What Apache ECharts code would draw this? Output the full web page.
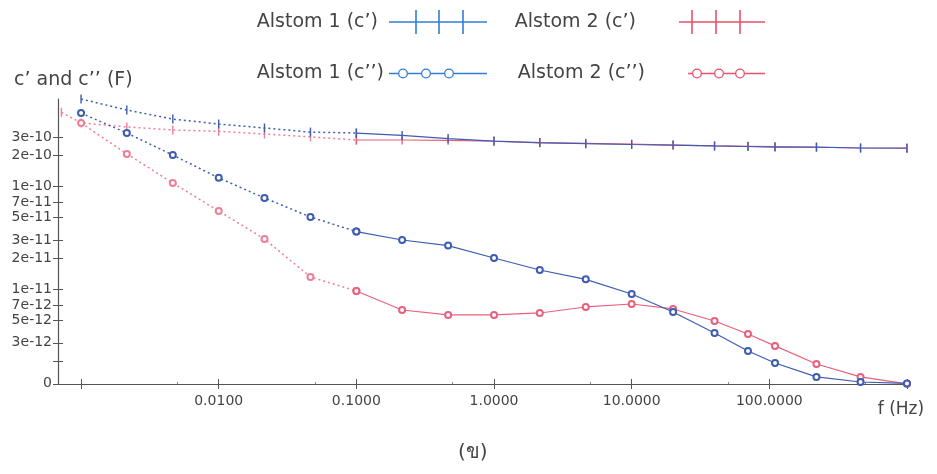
<!DOCTYPE html>
<html><head><meta charset="utf-8">
<script src="https://cdn.jsdelivr.net/npm/echarts@6/dist/echarts.min.js"></script>
<style>html,body{margin:0;padding:0;background:#fff}#c{width:937px;height:474px}</style>
</head><body><div id="c"></div>
<script>
// ---- data ----
const freqHz = [0.001, 0.00215, 0.00464, 0.01, 0.0215, 0.0464, 0.1, 0.215, 0.464, 1, 2.15, 4.64, 10, 20, 40, 70, 110, 220, 460, 1000];
const alstom1CPrime = [7.0e-10, 5.47e-10, 4.47e-10, 4.0e-10, 3.66e-10, 3.34e-10, 3.27e-10, 3.1e-10, 2.89e-10, 2.73e-10, 2.64e-10, 2.58e-10, 2.53e-10, 2.5e-10, 2.45e-10, 2.42e-10, 2.39e-10, 2.39e-10, 2.34e-10, 2.34e-10];
const alstom2CPrimeExtraFreq = [0.00072];
const alstom2CPrimeExtra = [5.2e-10];
const alstom2CPrime = [4.1e-10, 3.75e-10, 3.5e-10, 3.4e-10, 3.2e-10, 3.0e-10, 2.8e-10, 2.8e-10, 2.78e-10, 2.72e-10, 2.63e-10, 2.6e-10, 2.55e-10, 2.5e-10, 2.45e-10, 2.43e-10, 2.41e-10, 2.38e-10, 2.34e-10, 2.32e-10];
const alstom1CDouble = [5.11e-10, 3.27e-10, 2.0e-10, 1.2e-10, 7.65e-11, 5.0e-11, 3.61e-11, 2.99e-11, 2.64e-11, 2.0e-11, 1.53e-11, 1.24e-11, 8.94e-12, 5.98e-12, 3.74e-12, 2.5e-12, 1.91e-12, 1.4e-12, 1.25e-12, 1.21e-12];
const alstom2CDouble = [4.09e-10, 2.05e-10, 1.07e-10, 5.72e-11, 3.06e-11, 1.31e-11, 9.57e-12, 6.25e-12, 5.6e-12, 5.6e-12, 5.85e-12, 6.69e-12, 7.15e-12, 6.4e-12, 4.89e-12, 3.66e-12, 2.8e-12, 1.87e-12, 1.4e-12, 1.2e-12];

const seriesNames = ["Alstom 1 (c’)", "Alstom 2 (c’)", "Alstom 1 (c’’)", "Alstom 2 (c’’)"];
const yTickValues = [1.2e-12, 2e-12, 3e-12, 5e-12, 7e-12, 1e-11, 2e-11, 3e-11, 5e-11, 7e-11, 1e-10, 2e-10, 3e-10];
const yTickLabels = ['0', '', '3e-12', '5e-12', '7e-12', '1e-11', '2e-11', '3e-11', '5e-11', '7e-11', '1e-10', '2e-10', '3e-10'];
const xMajorTicks = [0.001, 0.01, 0.1, 1, 10, 100, 1000];
const xTickLabels = ['', '0.0100', '0.1000', '1.0000', '10.0000', '100.0000', ''];
const xMinorTicks = [0.005, 0.05, 0.5, 5, 50, 500];
const yTitle = "c’ and c’’ (F)";
const xTitle = "f (Hz)";
const caption = "(ข)";

// ---- helpers ----
function pairs(f, v) { return f.map((x, i) => [x, v[i]]); }
function low(p) { return p.filter(d => d[0] <= 0.1 + 1e-9); }
function high(p) { return p.filter(d => d[0] >= 0.1 - 1e-9); }
function findLabel(vals, labels, v) {
  for (let i = 0; i < vals.length; i++) {
    if (Math.abs(Math.log10(v) - Math.log10(vals[i])) < 1e-4) return labels[i];
  }
  return '';
}
function ring(cx, cy, ro, ri) {
  return `M${cx-ro},${cy}A${ro},${ro} 0 1,1 ${cx+ro},${cy}A${ro},${ro} 0 1,1 ${cx-ro},${cy}Z` +
         `M${cx-ri},${cy}A${ri},${ri} 0 1,0 ${cx+ri},${cy}A${ri},${ri} 0 1,0 ${cx-ri},${cy}Z`;
}
function circleIcon(W, H, centers, ro, ri) {
  const cy = H / 2, t = 0.75;
  let p = '';
  let x0 = 0;
  centers.forEach(c => {
    p += `M${x0},${cy-t}H${c-ro}V${cy+t}H${x0}Z`;
    p += ring(c, cy, ro, ri);
    x0 = c + ro;
  });
  p += `M${x0},${cy-t}H${W}V${cy+t}H${x0}Z`;
  return 'path://' + p;
}
function barIcon(W, H, bars) {
  const cy = H / 2, t = 0.8;
  let p = `M0,${cy-t}H${W}V${cy+t}H0Z`;
  bars.forEach(b => { p += `M${b-0.8},0H${b+0.8}V${H}H${b-0.8}Z`; });
  return 'path://' + p;
}

const BLUE = '#3d5cb2', RED = '#e8607c', RED_DOT = '#ef7f96';
const LBLUE = '#2f7fd6', LRED = '#e8506e';
const TXT = '#444', AX = '#555';
const FONT = 'DejaVu Sans';

const yMin = 1.195e-12, yMax = 7e-10, xMin = 0.00068, xMax = 1000.5;

const p1c = pairs(freqHz, alstom1CPrime);
const p2c = pairs(alstom2CPrimeExtraFreq.concat(freqHz), alstom2CPrimeExtra.concat(alstom2CPrime));
const p1d = pairs(freqHz, alstom1CDouble);
const p2d = pairs(freqHz, alstom2CDouble);

function mk(name, color, data, dotted, kind) {
  const s = {
    name, type: 'line', data, xAxisIndex: 0, yAxisIndex: 0, clip: false,
    lineStyle: { color, width: dotted ? 1.5 : 1.2, type: dotted ? [2, 3] : 'solid' },
    itemStyle: { color },
    emphasis: { disabled: true },
    animation: false
  };
  if (kind === 'bar') {
    s.symbol = 'rect'; s.symbolSize = [1.4, 9];
    s.itemStyle.borderWidth = 0;
  } else {
    s.symbol = 'emptyCircle'; s.symbolSize = 6;
    s.itemStyle.borderWidth = 1; s.itemStyle.borderColor = color;
  }
  return s;
}

const series = [
  mk(seriesNames[1], RED_DOT, low(p2c), true, 'bar'),
  mk(seriesNames[1], RED, high(p2c), false, 'bar'),
  mk(seriesNames[3], RED_DOT, low(p2d), true, 'circle'),
  mk(seriesNames[3], RED, high(p2d), false, 'circle'),
  mk(seriesNames[0], BLUE, low(p1c), true, 'bar'),
  mk(seriesNames[0], BLUE, high(p1c), false, 'bar'),
  mk(seriesNames[2], BLUE, low(p1d), true, 'circle'),
  mk(seriesNames[2], BLUE, high(p1d), false, 'circle')
];

// legends anchored by the right edge of their icon
function legendAt(name, icon, color, right, top, w, h, gap) {
  return {
    right, top, orient: 'horizontal', align: 'right', itemWidth: w, itemHeight: h,
    selectedMode: false, itemGap: 0, padding: 0,
    textStyle: { fontFamily: FONT, fontSize: 19, color: TXT, padding: [0, gap, 0, 0] },
    data: [{ name, icon, itemStyle: { color, borderWidth: 0 } }]
  };
}

const legends = [
  legendAt(seriesNames[0], barIcon(98, 24, [27, 50, 74]), LBLUE, 450, 10, 98, 24, 6),
  legendAt(seriesNames[1], barIcon(86, 24, [13, 37, 61]), LRED, 172, 10, 86, 24, 38),
  legendAt(seriesNames[2], circleIcon(98, 12, [14, 37, 60], 5, 3.7), LBLUE, 450, 64, 98, 12, 0),
  legendAt(seriesNames[3], circleIcon(77, 12, [9, 31, 52], 5, 3.7), LRED, 172, 64, 77, 12, 38)
];

const baseX = { type: 'log', logBase: 10, min: xMin, max: xMax, gridIndex: 0, position: 'bottom', splitLine: { show: false } };
const baseY = { type: 'log', logBase: 10, min: yMin, max: yMax, gridIndex: 0, position: 'left', splitLine: { show: false } };

const option = {
  backgroundColor: '#fff',
  animation: false,
  title: [
    { text: yTitle, left: 9, top: 66, textStyle: { fontFamily: FONT, fontSize: 19, fontWeight: 'normal', color: TXT } },
    { text: caption, left: 453, top: 438, textStyle: { fontFamily: FONT, fontSize: 20, fontWeight: 'normal', color: TXT } }
  ],
  legend: legends,
  grid: { left: 58, right: 30, top: 99, bottom: 90, containLabel: false },
  xAxis: [
    Object.assign({}, baseX, {
      name: xTitle, nameLocation: 'end', nameGap: -6,
      nameTextStyle: { fontFamily: FONT, fontSize: 17, color: TXT, align: 'center', verticalAlign: 'top', padding: [17, 0, 0, 0] },
      axisLine: { show: true, onZero: false, lineStyle: { color: AX, width: 1.2 } },
      axisTick: { show: true, inside: false, length: 5, customValues: xMajorTicks, lineStyle: { color: AX } },
      axisLabel: { show: true, margin: 10, customValues: xMajorTicks.slice(1, 6), fontFamily: FONT, fontSize: 14, color: TXT,
        formatter: v => findLabel(xMajorTicks, xTickLabels, v) }
    }),
    Object.assign({}, baseX, {
      axisLine: { show: false, onZero: false },
      axisTick: { show: true, inside: true, length: 5, customValues: xMajorTicks, lineStyle: { color: AX } },
      axisLabel: { show: false }
    }),
    Object.assign({}, baseX, {
      axisLine: { show: false, onZero: false },
      axisTick: { show: true, inside: true, length: 2, customValues: xMinorTicks, lineStyle: { color: '#888' } },
      axisLabel: { show: false }
    })
  ],
  yAxis: [
    Object.assign({}, baseY, {
      axisLine: { show: true, onZero: false, lineStyle: { color: AX, width: 1.2 } },
      axisTick: { show: true, inside: false, length: 5, customValues: yTickValues, lineStyle: { color: AX } },
      axisLabel: { show: true, margin: 6, customValues: yTickValues, fontFamily: FONT, fontSize: 14, color: TXT,
        formatter: v => findLabel(yTickValues, yTickLabels, v) }
    }),
    Object.assign({}, baseY, {
      axisLine: { show: false, onZero: false },
      axisTick: { show: true, inside: true, length: 5, customValues: yTickValues, lineStyle: { color: AX } },
      axisLabel: { show: false }
    })
  ],
  series
};

const chart = echarts.init(document.getElementById('c'), null, { renderer: 'canvas' });
chart.setOption(option);
</script>
</body></html>
